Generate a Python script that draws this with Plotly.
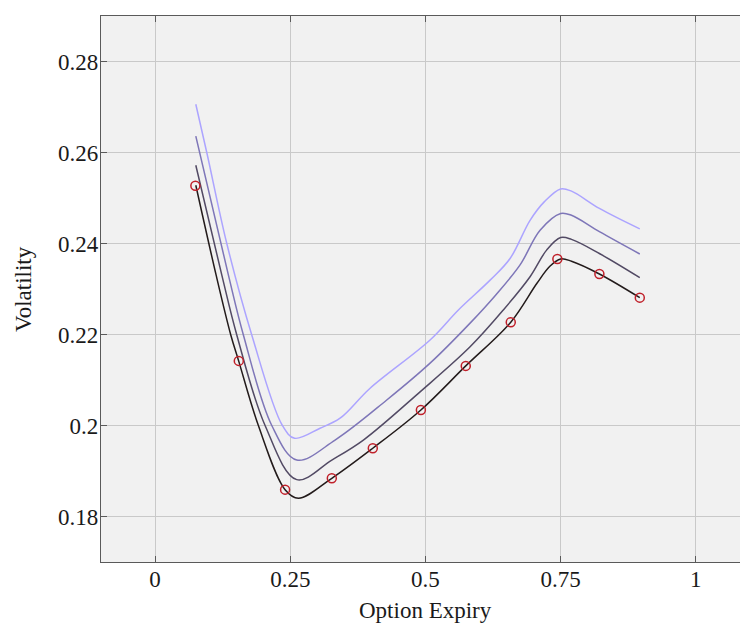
import plotly.graph_objects as go

# Observed market vols (red circles)
expiry_obs = [0.0745, 0.1548, 0.2404, 0.3268, 0.4026, 0.4915, 0.5745, 0.6577, 0.7439, 0.8216, 0.8963]
vol_obs = [0.2527, 0.2142, 0.1859, 0.1884, 0.1950, 0.2034, 0.2131, 0.2227, 0.2366, 0.2333, 0.2281]

# Fitted curves (darkest to lightest)
x_c0 = [0.0753, 0.1128, 0.1400, 0.1548, 0.1910, 0.2404, 0.2650, 0.3268, 0.4026, 0.4915,
        0.5745, 0.6577, 0.7058, 0.7300, 0.7500, 0.7700, 0.8216, 0.8963]
y_c0 = [0.2528, 0.2331, 0.2199, 0.2141, 0.2000, 0.1859, 0.1840, 0.1884, 0.1950, 0.2034,
        0.2131, 0.2227, 0.2312, 0.2350, 0.2366, 0.2361, 0.2333, 0.2281]

x_c1 = [0.0753, 0.1233, 0.1511, 0.2034, 0.2620, 0.3268, 0.3852, 0.4900, 0.5825, 0.6440,
        0.6934, 0.7243, 0.7500, 0.7700, 0.8216, 0.8963]
y_c1 = [0.2572, 0.2331, 0.2199, 0.2000, 0.1881, 0.1924, 0.1968, 0.2074, 0.2173, 0.2254,
        0.2327, 0.2386, 0.2413, 0.2409, 0.2378, 0.2325]

x_c2 = [0.0753, 0.1355, 0.1633, 0.2158, 0.2620, 0.3328, 0.4284, 0.5085, 0.5825, 0.6300,
        0.6749, 0.7119, 0.7500, 0.7700, 0.8216, 0.8963]
y_c2 = [0.2636, 0.2331, 0.2199, 0.2000, 0.1924, 0.1968, 0.2056, 0.2137, 0.2225, 0.2287,
        0.2353, 0.2429, 0.2466, 0.2462, 0.2426, 0.2377]

x_c3 = [0.0753, 0.0956, 0.1326, 0.1788, 0.2354, 0.2580, 0.3051, 0.3421, 0.3976, 0.5085,
        0.5609, 0.6200, 0.6564, 0.6934, 0.7200, 0.7500, 0.7700, 0.8216, 0.8963]
y_c3 = [0.2706, 0.2600, 0.2400, 0.2199, 0.2000, 0.1972, 0.1994, 0.2016, 0.2082, 0.2188,
        0.2254, 0.2320, 0.2367, 0.2451, 0.2492, 0.2520, 0.2515, 0.2477, 0.2432]

x_ticks = [0, 0.25, 0.5, 0.75, 1]
x_tick_text = ["0", "0.25", "0.5", "0.75", "1"]
y_ticks = [0.18, 0.20, 0.22, 0.24, 0.26, 0.28]
y_tick_text = ["0.18", "0.2", "0.22", "0.24", "0.26", "0.28"]

curve_colors = ["#aca4ff", "#7e76b8", "#524a64", "#231b1b"]
curves = [(x_c3, y_c3), (x_c2, y_c2), (x_c1, y_c1), (x_c0, y_c0)]

FONT = "Liberation Serif, Times New Roman, serif"

fig = go.Figure()
for (xs, ys), col in zip(curves, curve_colors):
    fig.add_trace(go.Scatter(x=xs, y=ys, mode="lines",
                             line=dict(color=col, width=1.5, shape="spline", smoothing=1.0),
                             showlegend=False, hoverinfo="skip"))

fig.add_trace(go.Scatter(x=expiry_obs, y=vol_obs, mode="markers",
                         marker=dict(symbol="circle-open", size=9, color="#c0202a",
                                     line=dict(width=1.5, color="#c0202a")),
                         showlegend=False))

axis_common = dict(showgrid=True, gridcolor="#c9c9c9", gridwidth=1, zeroline=False,
                   showline=True, linecolor="#5a5a5a", linewidth=1.3,
                   ticks="inside", ticklen=6, tickcolor="#5a5a5a", tickwidth=1,
                   tickfont=dict(family=FONT, size=23, color="#1a1a1a"))

plot_w = 740 - 101

fig.update_layout(
    width=740, height=625,
    margin=dict(l=101, r=0, t=16, b=63),
    paper_bgcolor="white", plot_bgcolor="#f1f1f1",
    font=dict(family=FONT, size=23, color="#1a1a1a"),
    xaxis=dict(range=[-0.1, 1.0816], tickvals=x_ticks, ticktext=x_tick_text,
               mirror="ticks", ticklabelstandoff=-4, **axis_common),
    yaxis=dict(range=[0.17, 0.29], tickvals=y_ticks, ticktext=y_tick_text,
               mirror=False, ticklabelstandoff=-3, **axis_common),
    annotations=[
        dict(text="Option Expiry", x=0.5, xref="x", y=-0.089, yref="paper",
             xanchor="center", yanchor="middle", showarrow=False,
             font=dict(family=FONT, size=23, color="#1a1a1a")),
        dict(text="Volatility", x=(23 - 101) / plot_w, xref="paper", y=0.5, yref="paper",
             xanchor="center", yanchor="middle", showarrow=False, textangle=-90,
             font=dict(family=FONT, size=23, color="#1a1a1a")),
    ],
)

fig.write_html(
    "out.html",
    config={"displayModeBar": False},
    post_script="document.documentElement.style.margin='0';document.body.style.margin='0';"
                "document.body.style.padding='0';document.body.style.overflow='hidden';"
                "document.documentElement.style.overflow='hidden';",
)
